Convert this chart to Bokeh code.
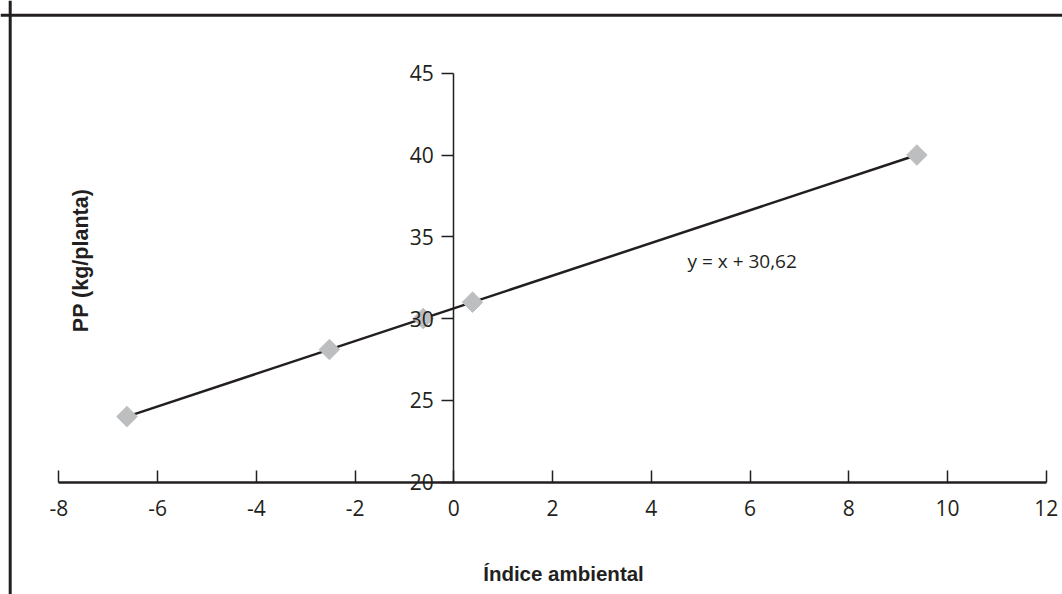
import math
from bokeh.plotting import figure
from bokeh.models import Range1d, LinearAxis, FixedTicker, Span, Label
from bokeh.embed import file_html
from bokeh.resources import INLINE

# ---- data ----
indice_ambiental = [-6.62, -2.52, -0.62, 0.38, 9.38]
pp_kg_planta = [24.0, 28.1, 30.0, 31.0, 40.0]
slope = 1.0
intercept = 30.62
x_ticks = [-8, -6, -4, -2, 0, 2, 4, 6, 8, 10, 12]
y_ticks = [20, 25, 30, 35, 40, 45]

INK = "#231f20"
GREY = "#bcbec0"

W, H = 1062, 594
# pixel mapping: x=0 at 453.3, 49.37 px/unit ; y=30 at 318, 16.35 px/unit
px_x, x0_pix = 49.37, 453.3
px_y, y30_pix = 16.35, 318.0
x_start = (0 - x0_pix) / px_x
x_end = (W - x0_pix) / px_x
y_top = 30 + (y30_pix - 0) / px_y
y_bot = 30 - (H - y30_pix) / px_y


def sx(px):
    return (px - x0_pix) / px_x


def sy(py):
    return 30 + (y30_pix - py) / px_y


p = figure(width=W, height=H, output_backend="svg", toolbar_location=None,
           title=None, x_axis_location=None, y_axis_location=None,
           x_range=Range1d(x_start, x_end), y_range=Range1d(y_bot, y_top),
           min_border=0, min_border_left=0, min_border_right=0,
           min_border_top=0, min_border_bottom=0)
p.grid.visible = False
p.outline_line_color = None
p.background_fill_color = "white"
p.border_fill_color = "white"

# chart-area border (top and left edges visible)
p.add_layout(Span(location=sx(9.7), dimension="height", line_color=INK, line_width=3))
p.add_layout(Span(location=sy(14.8), dimension="width", line_color=INK, line_width=3))

# axes crossing inside the plot
yax = LinearAxis(fixed_location=0, ticker=FixedTicker(ticks=y_ticks),
                 bounds=(min(y_ticks), max(y_ticks)))
yax.axis_line_color = INK
yax.axis_line_width = 1.5
yax.major_tick_line_color = INK
yax.major_tick_line_width = 1.5
yax.major_tick_out = 12
yax.major_tick_in = 0
yax.minor_tick_line_color = None
yax.major_label_text_font = "Open Sans"
yax.major_label_text_font_size = "21px"
yax.major_label_text_color = INK
yax.major_label_standoff = 8
yax.major_label_overrides = {t: str(t) for t in y_ticks}
p.add_layout(yax, "left")

xax = LinearAxis(fixed_location=min(y_ticks), ticker=FixedTicker(ticks=x_ticks),
                 bounds=(min(x_ticks), max(x_ticks)))
xax.axis_line_color = INK
xax.axis_line_width = 2.5
xax.major_tick_line_color = INK
xax.major_tick_line_width = 1.5
xax.major_tick_out = 0
xax.major_tick_in = 12
xax.minor_tick_line_color = None
xax.major_label_text_font = "Open Sans"
xax.major_label_text_font_size = "21px"
xax.major_label_text_color = INK
xax.major_label_standoff = 18
xax.major_label_overrides = {t: str(t) for t in x_ticks}
p.add_layout(xax, "below")

# regression line
xmin, xmax = min(indice_ambiental), max(indice_ambiental)
p.line([xmin, xmax], [slope * xmin + intercept, slope * xmax + intercept],
       line_color=INK, line_width=2.5)

# data points (diamonds)
p.scatter(indice_ambiental, pp_kg_planta, marker="square", angle=math.pi / 4,
          size=14.5, fill_color=GREY, line_color=GREY)

# equation
eq = "y = x + " + f"{intercept:.2f}".replace(".", ",")
p.add_layout(Label(x=sx(687), y=sy(260), text=eq,
                   text_font="Open Sans", text_font_size="19px", text_color=INK,
                   text_align="left", text_baseline="alphabetic"))

# axis titles
p.add_layout(Label(x=sx(563), y=sy(573), text="Índice ambiental",
                   text_font="Liberation Sans", text_font_style="bold",
                   text_font_size="20.5px", text_color=INK,
                   text_align="center", text_baseline="alphabetic"))
p.add_layout(Label(x=sx(80), y=sy(260), text="PP (kg/planta)",
                   text_font="Liberation Sans", text_font_style="bold",
                   text_font_size="21.5px", text_color=INK,
                   text_align="center", text_baseline="alphabetic",
                   angle=math.pi / 2))

open("out.html", "w").write(file_html(p, INLINE))
